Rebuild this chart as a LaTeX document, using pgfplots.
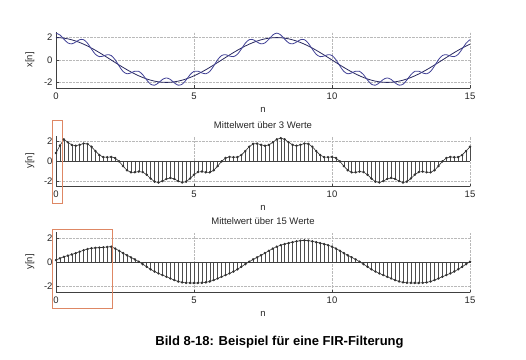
\documentclass[border=0pt]{standalone}
\usepackage{pgfplots}
\pgfplotsset{compat=1.18}
\usepackage{pgfplotstable}
\usepackage{fontspec}
\setmainfont{Liberation Sans}

\definecolor{cosc}{RGB}{40,40,95}
\definecolor{ripc}{RGB}{65,65,150}
\definecolor{boxc}{RGB}{222,135,100}

\pgfplotstableread{
n c x y3 y15
0 2.0000 2.4000 0.8000 0.1600
0.1429 1.9874 2.2368 1.5456 0.3091
0.2857 1.9499 1.8609 2.1659 0.4332
0.4286 1.8878 1.5274 1.8750 0.5350
0.5714 1.8019 1.4415 1.6099 0.6311
0.7143 1.6934 1.6044 1.5244 0.7381
0.8571 1.5637 1.8131 1.6197 0.8589
1 1.4142 1.8142 1.7439 0.9799
1.1429 1.2470 1.4964 1.7079 1.0796
1.2857 1.0641 0.9751 1.4286 1.1447
1.4286 0.8678 0.5074 0.9930 1.1785
1.5714 0.6606 0.3002 0.5942 1.1985
1.7143 0.4450 0.3560 0.3879 1.2222
1.8571 0.2239 0.4733 0.3765 1.2538
2 0 0.4000 0.4098 1.2804
2.1429 -0.2239 0.0255 0.2996 1.1221
2.2857 -0.4450 -0.5340 -0.0362 0.9374
2.4286 -0.6606 -1.0210 -0.5098 0.7453
2.5714 -0.8678 -1.2282 -0.9277 0.5616
2.7143 -1.0641 -1.1531 -1.1341 0.3886
2.8571 -1.2470 -0.9976 -1.1263 0.2152
3 -1.4142 -1.0142 -1.0550 0.0267
3.1429 -1.5637 -1.3143 -1.1087 -0.1819
3.2857 -1.6934 -1.7824 -1.3703 -0.4005
3.4286 -1.8019 -2.1623 -1.7530 -0.6096
3.5714 -1.8878 -2.2482 -2.0643 -0.7934
3.7143 -1.9499 -2.0389 -2.1498 -0.9493
3.8571 -1.9874 -1.7380 -2.0084 -1.0889
4 -2.0000 -1.6000 -1.7923 -1.2271
4.1429 -1.9874 -1.7380 -1.6920 -1.3696
4.2857 -1.9499 -2.0389 -1.7923 -1.5073
4.4286 -1.8878 -2.2482 -2.0084 -1.6216
4.5714 -1.8019 -2.1623 -2.1498 -1.6976
4.7143 -1.6934 -1.7824 -2.0643 -1.7346
4.8571 -1.5637 -1.3143 -1.7530 -1.7453
5 -1.4142 -1.0142 -1.3703 -1.7464
5.1429 -1.2470 -0.9976 -1.1087 -1.7453
5.2857 -1.0641 -1.1531 -1.0550 -1.7346
5.4286 -0.8678 -1.2282 -1.1263 -1.6976
5.5714 -0.6606 -1.0210 -1.1341 -1.6216
5.7143 -0.4450 -0.5340 -0.9277 -1.5073
5.8571 -0.2239 0.0255 -0.5098 -1.3696
6 0 0.4000 -0.0362 -1.2271
6.1429 0.2239 0.4733 0.2996 -1.0889
6.2857 0.4450 0.3560 0.4098 -0.9493
6.4286 0.6606 0.3002 0.3765 -0.7934
6.5714 0.8678 0.5074 0.3879 -0.6096
6.7143 1.0641 0.9751 0.5942 -0.4005
6.8571 1.2470 1.4964 0.9930 -0.1819
7 1.4142 1.8142 1.4286 0.0267
7.1429 1.5637 1.8131 1.7079 0.2152
7.2857 1.6934 1.6044 1.7439 0.3886
7.4286 1.8019 1.4415 1.6197 0.5616
7.5714 1.8878 1.5274 1.5244 0.7453
7.7143 1.9499 1.8609 1.6099 0.9374
7.8571 1.9874 2.2368 1.8750 1.1221
8 2.0000 2.4000 2.1659 1.2804
8.1429 1.9874 2.2368 2.2912 1.4029
8.2857 1.9499 1.8609 2.1659 1.4954
8.4286 1.8878 1.5274 1.8750 1.5735
8.5714 1.8019 1.4415 1.6099 1.6496
8.7143 1.6934 1.6044 1.5244 1.7227
8.8571 1.5637 1.8131 1.6197 1.7786
9 1.4142 1.8142 1.7439 1.7998
9.1429 1.2470 1.4964 1.7079 1.7786
9.2857 1.0641 0.9751 1.4286 1.7227
9.4286 0.8678 0.5074 0.9930 1.6496
9.5714 0.6606 0.3002 0.5942 1.5735
9.7143 0.4450 0.3560 0.3879 1.4954
9.8571 0.2239 0.4733 0.3765 1.4029
10 0 0.4000 0.4098 1.2804
10.1429 -0.2239 0.0255 0.2996 1.1221
10.2857 -0.4450 -0.5340 -0.0362 0.9374
10.4286 -0.6606 -1.0210 -0.5098 0.7453
10.5714 -0.8678 -1.2282 -0.9277 0.5616
10.7143 -1.0641 -1.1531 -1.1341 0.3886
10.8571 -1.2470 -0.9976 -1.1263 0.2152
11 -1.4142 -1.0142 -1.0550 0.0267
11.1429 -1.5637 -1.3143 -1.1087 -0.1819
11.2857 -1.6934 -1.7824 -1.3703 -0.4005
11.4286 -1.8019 -2.1623 -1.7530 -0.6096
11.5714 -1.8878 -2.2482 -2.0643 -0.7934
11.7143 -1.9499 -2.0389 -2.1498 -0.9493
11.8571 -1.9874 -1.7380 -2.0084 -1.0889
12 -2.0000 -1.6000 -1.7923 -1.2271
12.1429 -1.9874 -1.7380 -1.6920 -1.3696
12.2857 -1.9499 -2.0389 -1.7923 -1.5073
12.4286 -1.8878 -2.2482 -2.0084 -1.6216
12.5714 -1.8019 -2.1623 -2.1498 -1.6976
12.7143 -1.6934 -1.7824 -2.0643 -1.7346
12.8571 -1.5637 -1.3143 -1.7530 -1.7453
13 -1.4142 -1.0142 -1.3703 -1.7464
13.1429 -1.2470 -0.9976 -1.1087 -1.7453
13.2857 -1.0641 -1.1531 -1.0550 -1.7346
13.4286 -0.8678 -1.2282 -1.1263 -1.6976
13.5714 -0.6606 -1.0210 -1.1341 -1.6216
13.7143 -0.4450 -0.5340 -0.9277 -1.5073
13.8571 -0.2239 0.0255 -0.5098 -1.3696
14 0 0.4000 -0.0362 -1.2271
14.1429 0.2239 0.4733 0.2996 -1.0889
14.2857 0.4450 0.3560 0.4098 -0.9493
14.4286 0.6606 0.3002 0.3765 -0.7934
14.5714 0.8678 0.5074 0.3879 -0.6096
14.7143 1.0641 0.9751 0.5942 -0.4005
14.8571 1.2470 1.4964 0.9930 -0.1819
15 1.4142 1.8142 1.4286 0.0267
}\data

\pgfplotsset{
  mystyle/.style={
    scale only axis, width=414pt,
    xmin=0, xmax=15, ymin=-2.5, ymax=2.5,
    xtick={0,5,10,15}, ytick={-2,0,2},
    axis x line*=bottom, axis y line*=left,
    axis line style={-, black!75, line width=0.8pt},
    grid=major, grid style={densely dotted, gray!55, line width=0.5pt},
    tick align=inside, major tick length=2.5pt,
    tick style={black!75},
    tick label style={font=\fontsize{9.5}{10}\selectfont, text=black!85},
    /pgf/number format/assume math mode=true,
    xticklabel style={yshift=-1pt},
    xlabel={n},
    xlabel style={font=\fontsize{9.5}{10}\selectfont, at={(axis description cs:0.5,0)}, anchor=center, yshift=-22pt, text=black!85},
    ylabel style={font=\fontsize{9.5}{10}\selectfont, at={(axis description cs:-0.063,0.5)}, anchor=center, rotate=0, text=black!85},
    title style={font=\fontsize{9.5}{10}\selectfont, at={(axis description cs:0.5,1)}, anchor=center, yshift=5pt, text=black!85},
    clip=false,
  }
}

\begin{document}
\begin{tikzpicture}
\path[use as bounding box] (0,0) rectangle (526pt,359pt);

% top plot
\begin{axis}[mystyle, height=56pt, at={(56pt,271pt)}, anchor=south west, ylabel={x[n]}]
\addplot[cosc, line width=0.8pt, smooth, no marks] table[x=n,y=c]{\data};
\addplot[ripc, line width=0.8pt, smooth, no marks] table[x=n,y=x]{\data};
\end{axis}

% middle plot
\begin{axis}[mystyle, height=50pt, at={(56pt,173pt)}, anchor=south west, ylabel={y[n]},
  title={Mittelwert über 3 Werte}]
\addplot[ycomb, draw=black!70, line width=0.5pt, no marks] table[x=n,y=y3]{\data};
\addplot[black!80, line width=0.6pt, mark=*, mark size=0.9pt] table[x=n,y=y3]{\data};
\addplot[black!75, line width=0.9pt, no marks] coordinates {(0,0) (15,0)};
\draw[boxc, line width=1pt] (axis cs:-0.14,4.0) rectangle (axis cs:0.22,-4.2);
\end{axis}

% bottom plot
\begin{axis}[mystyle, height=60pt, at={(56pt,67pt)}, anchor=south west, ylabel={y[n]},
  title={Mittelwert über 15 Werte}]
\addplot[ycomb, draw=black!70, line width=0.5pt, no marks] table[x=n,y=y15]{\data};
\addplot[black!80, line width=0.6pt, mark=*, mark size=0.9pt] table[x=n,y=y15]{\data};
\addplot[black!75, line width=0.9pt, no marks] coordinates {(0,0) (15,0)};
\draw[boxc, line width=1pt] (axis cs:-0.11,2.75) rectangle (axis cs:2.03,-3.9);
\end{axis}

\node[font=\fontsize{13}{15}\selectfont\bfseries] at (279.5pt,17pt) {Bild 8-18: Beispiel für eine FIR-Filterung};
\end{tikzpicture}
\end{document}
